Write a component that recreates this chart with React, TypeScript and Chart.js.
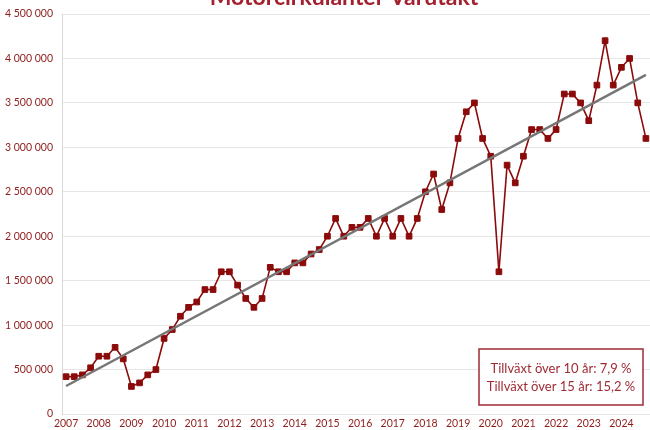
import React, { useEffect, useRef } from "react";
import { Chart, registerables } from "chart.js";

Chart.register(...registerables);

const TITLE = "Motorcirkulanter Varutakt";
const startYear = 2007;
const yearTicks = [2007, 2008, 2009, 2010, 2011, 2012, 2013, 2014, 2015, 2016, 2017, 2018, 2019, 2020, 2021, 2022, 2023, 2024];
const quarterlyValues = [
  420000, 420000, 440000, 520000, 650000, 650000, 750000, 620000,
  310000, 350000, 440000, 500000, 850000, 950000, 1100000, 1200000,
  1260000, 1400000, 1400000, 1600000, 1600000, 1450000, 1300000, 1200000,
  1300000, 1650000, 1600000, 1600000, 1700000, 1700000, 1800000, 1850000,
  2000000, 2200000, 2000000, 2100000, 2100000, 2200000, 2000000, 2200000,
  2000000, 2200000, 2000000, 2200000, 2500000, 2700000, 2300000, 2600000,
  3100000, 3400000, 3500000, 3100000, 2900000, 1600000, 2800000, 2600000,
  2900000, 3200000, 3200000, 3100000, 3200000, 3600000, 3600000, 3500000,
  3300000, 3700000, 4200000, 3700000, 3900000, 4000000, 3500000, 3100000,
];
const trendX = [2007, 2024.75];
const trendValues = [315000, 3815000];
const noteLines = ["Tillväxt över 10 år: 7,9 %", "Tillväxt över 15 år: 15,2 %"];

const RED = "#8B0A0A";
const LABEL_RED = "#8E1B1B";
const NOTE_RED = "#9E2A34";
const FONT = "Lato, 'Open Sans', sans-serif";

function fmt(v: number): string {
  return Math.round(v).toString().replace(/\B(?=(\d{3})+(?!\d))/g, " ");
}

const overlayPlugin = {
  id: "overlay",
  afterDraw(chart: any) {
    const ctx = chart.ctx;
    const area = chart.chartArea;
    ctx.save();
    // title (cut off at top, as in the reference)
    ctx.fillStyle = "#A3202E";
    ctx.font = `bold 23px ${FONT}`;
    ctx.textAlign = "center";
    ctx.textBaseline = "alphabetic";
    ctx.fillText(TITLE, 344, 5);
    // note box
    const boxW = 164;
    const boxH = 56;
    const bx = area.right - 7 - boxW;
    const by = area.bottom - 9 - boxH;
    ctx.strokeStyle = NOTE_RED;
    ctx.lineWidth = 1.5;
    ctx.fillStyle = "#ffffff";
    ctx.fillRect(bx, by, boxW, boxH);
    ctx.strokeRect(bx, by, boxW, boxH);
    ctx.fillStyle = NOTE_RED;
    ctx.font = `13px ${FONT}`;
    ctx.textBaseline = "middle";
    ctx.fillText(noteLines[0], bx + boxW / 2, by + 20);
    ctx.fillText(noteLines[1], bx + boxW / 2, by + 38);
    ctx.restore();
  },
};

export default function App() {
  const ref = useRef<HTMLCanvasElement | null>(null);
  useEffect(() => {
    if (!ref.current) return;
    const dataPts = quarterlyValues.map((v, i) => ({ x: startYear + i / 4, y: v }));
    const trendPts = trendX.map((x, i) => ({ x, y: trendValues[i] }));
    const chart = new Chart(ref.current, {
      type: "line",
      data: {
        datasets: [
          {
            label: "Trend",
            data: trendPts,
            borderColor: "#767676",
            borderWidth: 2.5,
            pointRadius: 0,
            order: 0,
          },
          {
            label: "Varutakt",
            data: dataPts,
            borderColor: RED,
            backgroundColor: RED,
            borderWidth: 1.6,
            pointStyle: "rect",
            pointRadius: 4,
            pointBorderWidth: 1,
            pointBackgroundColor: RED,
            pointBorderColor: RED,
            order: 1,
          },
        ],
      },
      options: {
        animation: false,
        responsive: false,
        layout: { autoPadding: false, padding: { top: 14, left: 0, right: 0, bottom: 0 } },
        plugins: { legend: { display: false }, tooltip: { enabled: false }, title: { display: false } },
        scales: {
          x: {
            type: "linear",
            min: 2006.875,
            max: 2024.875,
            grid: { display: false, drawTicks: false },
            border: { display: false },
            afterFit: (s: any) => { s.height = 16; s.paddingLeft = 0; s.paddingRight = 0; },
            afterBuildTicks: (s: any) => { s.ticks = yearTicks.map((v) => ({ value: v })); },
            ticks: {
              autoSkip: false,
              maxRotation: 0,
              padding: 3,
              color: LABEL_RED,
              font: { family: FONT, size: 10.5 },
              callback: (v: any) => String(v),
            },
          },
          y: {
            min: 0,
            max: 4500000,
            grid: { color: "#e6e6e6", drawTicks: false, lineWidth: 1 },
            border: { display: true, color: "#d9d9d9", width: 1 },
            afterFit: (s: any) => { s.width = 62; s.paddingTop = 0; s.paddingBottom = 0; },
            ticks: {
              stepSize: 500000,
              padding: 9,
              color: LABEL_RED,
              font: { family: FONT, size: 10.5 },
              callback: (v: any) => fmt(Number(v)),
            },
          },
        },
      },
      plugins: [overlayPlugin],
    });
    return () => chart.destroy();
  }, []);
  return (
    <div style={{ position: "absolute", left: 0, top: 0, width: 650, height: 430, background: "#fff" }}>
      <canvas ref={ref} width={650} height={430} style={{ display: "block" }} />
    </div>
  );
}
